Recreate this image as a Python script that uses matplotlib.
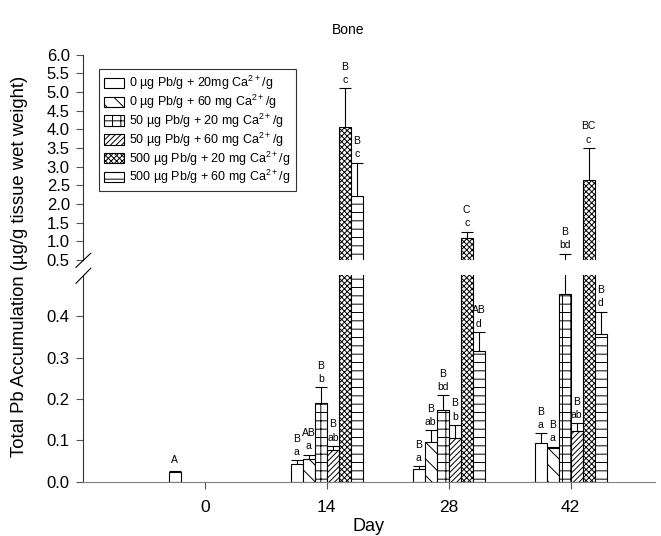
import numpy as np
import matplotlib
matplotlib.use('Agg')
import matplotlib.pyplot as plt
from matplotlib.lines import Line2D

plt.rcParams['font.family'] = ['Liberation Sans', 'DejaVu Sans']
plt.rcParams['mathtext.fontset'] = 'custom'
plt.rcParams['mathtext.rm'] = 'Liberation Sans'
plt.rcParams['mathtext.default'] = 'regular'
plt.rcParams['hatch.linewidth'] = 0.7

nan = np.nan
days = [0, 14, 28, 42]
series_labels = [
    '0 µg Pb/g + 20mg Ca$^{2+}$/g',
    '0 µg Pb/g + 60 mg Ca$^{2+}$/g',
    '50 µg Pb/g + 20 mg Ca$^{2+}$/g',
    '50 µg Pb/g + 60 mg Ca$^{2+}$/g',
    '500 µg Pb/g + 20 mg Ca$^{2+}$/g',
    '500 µg Pb/g + 60 mg Ca$^{2+}$/g',
]

# mean values per day (0, 14, 28, 42)
pb0_ca20 = [0.024, 0.044, 0.031, 0.094]
pb0_ca60 = [nan, 0.056, 0.097, 0.081]
pb50_ca20 = [nan, 0.190, 0.174, 0.453]
pb50_ca60 = [nan, 0.077, 0.105, 0.122]
pb500_ca20 = [nan, 4.05, 1.08, 2.64]
pb500_ca60 = [nan, 2.22, 0.317, 0.358]

# upper error
err_pb0_ca20 = [0.002, 0.008, 0.006, 0.023]
err_pb0_ca60 = [nan, 0.009, 0.027, 0.004]
err_pb50_ca20 = [nan, 0.038, 0.035, 0.21]
err_pb50_ca60 = [nan, 0.009, 0.032, 0.019]
err_pb500_ca20 = [nan, 1.05, 0.18, 0.86]
err_pb500_ca60 = [nan, 0.88, 0.045, 0.053]

# significance letters (upper row, lower row)
up_letters = [['A', 'B', 'B', 'B'],
              ['', 'AB', 'B', 'B'],
              ['', 'B', 'B', 'B'],
              ['', 'B', 'B', 'B'],
              ['', 'B', 'C', 'BC'],
              ['', 'B', 'AB', 'B']]
low_letters = [['', 'a', 'a', 'a'],
               ['', 'a', 'ab', 'a'],
               ['', 'b', 'bd', 'bd'],
               ['', 'ab', 'b', 'ab'],
               ['', 'c', 'c', 'c'],
               ['', 'c', 'd', 'd']]

values = [pb0_ca20, pb0_ca60, pb50_ca20, pb50_ca60, pb500_ca20, pb500_ca60]
errors = [err_pb0_ca20, err_pb0_ca60, err_pb50_ca20, err_pb50_ca60,
          err_pb500_ca20, err_pb500_ca60]
hatches = ['', '\\\\', '++', '//////', 'xxxxxx', '--']

W_PX, H_PX = 661, 536
fig = plt.figure(figsize=(W_PX / 100, H_PX / 100), dpi=100)
left = 83 / W_PX
width = (655 - 83) / W_PX
ax_bot = fig.add_axes([left, (H_PX - 481.7) / H_PX, width, (481.7 - 275) / H_PX])
ax_top = fig.add_axes([left, (H_PX - 260) / H_PX, width, (260 - 54.7) / H_PX])

bw = 1.38
x_days = np.array(days, dtype=float)
bars = []
for i in range(6):
    x = x_days + (i - 2.5) * bw
    v = np.array(values[i])
    e = np.array(errors[i])
    ok = ~np.isnan(v)
    for ax in (ax_bot, ax_top):
        b = ax.bar(x[ok], v[ok], bw, color='white', edgecolor='black',
                   hatch=hatches[i], linewidth=0.8, label=series_labels[i])
        if ax is ax_bot:
            bars.append(b)
        ax.vlines(x[ok], v[ok], v[ok] + e[ok], color='black', lw=0.8)
        ax.hlines(v[ok] + e[ok], x[ok] - bw / 2, x[ok] + bw / 2, color='black', lw=0.8)
    for j in range(len(days)):
        if not ok[j]:
            continue
        cap = v[j] + e[j]
        ax = ax_top if cap > 0.5 else ax_bot
        lo = low_letters[i][j]
        up = up_letters[i][j]
        if lo:
            ax.annotate(lo, (x[j], cap), xytext=(0, 2.5), textcoords='offset points',
                        ha='center', va='bottom', fontsize=7.5)
            ax.annotate(up, (x[j], cap), xytext=(0, 12), textcoords='offset points',
                        ha='center', va='bottom', fontsize=7.5)
        elif up:
            ax.annotate(up, (x[j], cap), xytext=(0, 4), textcoords='offset points',
                        ha='center', va='bottom', fontsize=7.5)

for ax in (ax_bot, ax_top):
    ax.set_xlim(-14, 51.7)
    ax.spines['top'].set_visible(False)
    ax.spines['right'].set_visible(False)
    ax.spines['left'].set_color('#333333')
    ax.tick_params(axis='y', direction='out', length=5, width=0.8, color='#555555',
                   labelsize=12, pad=4.5)

ax_top.spines['bottom'].set_visible(False)
ax_top.tick_params(axis='x', bottom=False, labelbottom=False)
ax_top.set_ylim(0.5, 6.0)
ax_top.set_yticks(np.arange(0.5, 6.01, 0.5))
ax_top.set_yticklabels(['%.1f' % t for t in np.arange(0.5, 6.01, 0.5)])

ax_bot.set_ylim(0, 0.5)
ax_bot.set_yticks([0.0, 0.1, 0.2, 0.3, 0.4])
ax_bot.set_yticklabels(['0.0', '0.1', '0.2', '0.3', '0.4'])
ax_bot.spines['bottom'].set_color('#808080')
ax_bot.set_xticks(days)
ax_bot.set_xticklabels([str(d) for d in days])
ax_bot.tick_params(axis='x', direction='out', length=5, width=0.8, color='#555555',
                   labelsize=12.5, pad=8)
ax_bot.set_xlabel('Day', fontsize=13, labelpad=2)

# axis break marks
for (x0, y0, x1, y1) in [(76, 267.3, 90.7, 253.3), (76, 283.3, 90.7, 268.3)]:
    fig.add_artist(Line2D([x0 / W_PX, x1 / W_PX], [1 - y0 / H_PX, 1 - y1 / H_PX],
                          transform=fig.transFigure, color='black', lw=0.8))

fig.text(20 / W_PX, 1 - 266 / H_PX, 'Total Pb Accumulation (µg/g tissue wet weight)',
         rotation=90, ha='center', va='center', fontsize=13.3)
fig.text(348 / W_PX, 1 - 30 / H_PX, 'Bone', ha='center', va='center', fontsize=10)

leg = fig.legend(handles=bars, labels=series_labels, loc='upper left',
                 bbox_to_anchor=(99 / W_PX, 1 - 69 / H_PX), borderaxespad=0,
                 fontsize=9, frameon=True, fancybox=False, edgecolor='black',
                 handlelength=1.6, handleheight=0.9, labelspacing=0.05,
                 handletextpad=0.4, borderpad=0.4)
leg.get_frame().set_linewidth(0.8)

fig.savefig('out.png', dpi=100)
